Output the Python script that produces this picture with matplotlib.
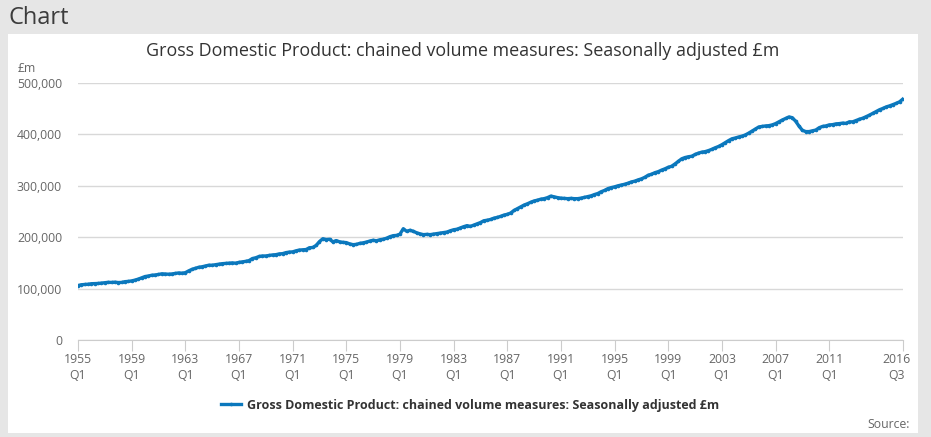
import matplotlib

matplotlib.use("Agg")
import matplotlib.pyplot as plt
import matplotlib.transforms as mtransforms
import numpy as np
from matplotlib.patches import Rectangle

plt.rcParams["font.family"] = ["Open Sans", "DejaVu Sans"]

TITLE = "Gross Domestic Product: chained volume measures: Seasonally adjusted £m"
LINE_COLOR = "#0b78bd"

# quarterly GDP, £m thousands, 1955 Q1 .. 2016 Q3 (one row per year)
gdp_k = [
    106.0, 107.5, 108.0, 108.5,  # 1955
    109.5, 109.8, 110.0, 110.8,
    111.5, 112.2, 112.0, 112.5,
    111.8, 112.0, 113.5, 114.0,
    115.0, 116.5, 118.5, 121.0,  # 1959
    123.5, 124.5, 126.0, 126.5,
    127.5, 128.8, 128.5, 128.0,
    128.5, 129.5, 130.5, 130.0,
    131.0, 134.5, 137.5, 139.5,  # 1963
    141.5, 142.5, 144.0, 145.5,
    145.5, 146.5, 147.5, 148.5,
    149.0, 149.5, 150.0, 149.5,
    151.0, 152.0, 153.0, 154.5,  # 1967
    158.5, 160.0, 162.5, 163.5,
    163.5, 164.5, 165.5, 166.0,
    167.5, 168.0, 170.0, 171.0,
    171.5, 173.5, 175.0, 175.5,  # 1971
    176.0, 179.5, 180.0, 184.0,
    191.5, 197.0, 195.5, 196.0,
    191.0, 193.5, 191.0, 190.0,
    189.5, 187.0, 185.5, 186.0,  # 1975
    188.0, 189.0, 190.5, 192.5,
    194.0, 193.0, 195.0, 196.0,
    198.0, 201.0, 203.0, 203.5,
    206.0, 216.5, 211.5, 213.5,  # 1979
    211.5, 208.5, 206.5, 205.0,
    205.5, 205.0, 206.0, 207.0,
    208.0, 209.0, 210.0, 212.5,
    214.5, 215.5, 218.0, 220.5,  # 1983
    222.5, 221.0, 223.5, 226.0,
    228.5, 232.0, 233.0, 234.5,
    237.0, 238.5, 240.5, 243.0,
    244.5, 247.0, 252.0, 255.5,  # 1987
    259.0, 262.5, 265.0, 268.0,
    270.5, 272.0, 274.0, 275.0,
    277.0, 280.0, 278.5, 277.0,
    276.0, 275.5, 275.0, 275.5,  # 1991
    275.0, 275.0, 276.0, 277.5,
    279.0, 280.5, 283.0, 285.0,
    288.5, 291.0, 294.5, 296.5,
    298.0, 300.0, 301.5, 303.0,  # 1995
    305.0, 307.5, 309.0, 311.5,
    313.5, 316.5, 320.5, 322.5,
    325.5, 327.5, 330.5, 333.0,
    336.0, 338.0, 342.5, 347.5,  # 1999
    352.5, 355.0, 356.5, 357.5,
    361.0, 363.5, 365.5, 366.5,
    368.5, 371.0, 374.0, 376.5,
    380.0, 384.0, 388.0, 391.5,  # 2003
    393.0, 395.0, 396.5, 399.0,
    402.5, 406.5, 410.5, 414.5,
    415.5, 416.5, 417.0, 418.5,
    421.0, 424.5, 428.0, 431.0,  # 2007
    434.0, 432.5, 425.5, 416.0,
    408.0, 405.5, 405.5, 407.0,
    408.5, 413.0, 415.5, 416.5,
    418.5, 419.0, 420.5, 421.0,  # 2011
    422.0, 421.5, 424.5, 424.5,
    427.0, 429.5, 431.5, 434.5,
    437.5, 441.0, 444.5, 448.0,
    450.5, 453.5, 455.5, 458.0,  # 2015
    460.5, 463.5, 469.0,
]
gdp = np.array(gdp_k) * 1000

tick_idx = list(range(0, 225, 16)) + [246]
tick_labels = [f"{1955 + i // 4}\nQ{i % 4 + 1}" for i in tick_idx]
y_ticks = [0, 100000, 200000, 300000, 400000, 500000]

W, H = 931, 437
fig = plt.figure(figsize=(W / 100, H / 100), dpi=100, facecolor="#e6e6e6")

# white chart panel, kept behind the axes
fig.patches.append(Rectangle((8 / W, 4 / H), 910 / W, 399 / H,
                             transform=fig.transFigure, facecolor="white",
                             edgecolor="none", zorder=-10))
fig.text(8 / W, 1 - 18 / H, "Chart", fontsize=17, color="#3c3c3c", va="center")
fig.text(463 / W, 1 - 51 / H, TITLE, fontsize=12.9, color="#333333",
         ha="center", va="center")
fig.text(18 / W, 1 - 68 / H, "£m", fontsize=8.8, color="#666666", va="center")

ax = fig.add_axes([78 / W, 1 - 340 / H, 825 / W, 257 / H])
ax.set_facecolor("none")
x = np.arange(len(gdp))
ax.plot(x, gdp, color=LINE_COLOR, lw=2.4, marker="o", ms=2.6, mew=0,
        label=TITLE)
ax.set_xlim(0, 246)
ax.set_ylim(0, 500000)

ax.set_yticks(y_ticks)
ax.set_yticklabels([f"{v:,}" for v in y_ticks])
ax.set_xticks(tick_idx)
ax.set_xticklabels(tick_labels, linespacing=1.3)
ax.grid(axis="y", color="#d8d8d8", lw=1)
ax.set_axisbelow(True)
for side in ("top", "right", "left"):
    ax.spines[side].set_visible(False)
ax.spines["bottom"].set_color("#cccccc")
ax.tick_params(axis="y", length=0, pad=11.5, labelsize=8.8, labelcolor="#666666")
ax.tick_params(axis="x", length=8, color="#cccccc", pad=1.5, labelsize=8.8,
               labelcolor="#666666")

# last label is nudged left to stay inside the panel
last = ax.get_xticklabels()[-1]
last.set_transform(last.get_transform() +
                   mtransforms.ScaledTranslation(-7 / 100, 0, fig.dpi_scale_trans))

leg = fig.legend(loc="center", bbox_to_anchor=(470 / W, 1 - 405 / H),
                 frameon=False, handlelength=1.6, handletextpad=0.5,
                 prop={"weight": "bold", "size": 9})
for t in leg.get_texts():
    t.set_color("#333333")

fig.text(910 / W, 1 - 424 / H, "Source:", fontsize=8.8, color="#666666",
         ha="right", va="center")

fig.savefig("out.png", dpi=100, facecolor=fig.get_facecolor())
